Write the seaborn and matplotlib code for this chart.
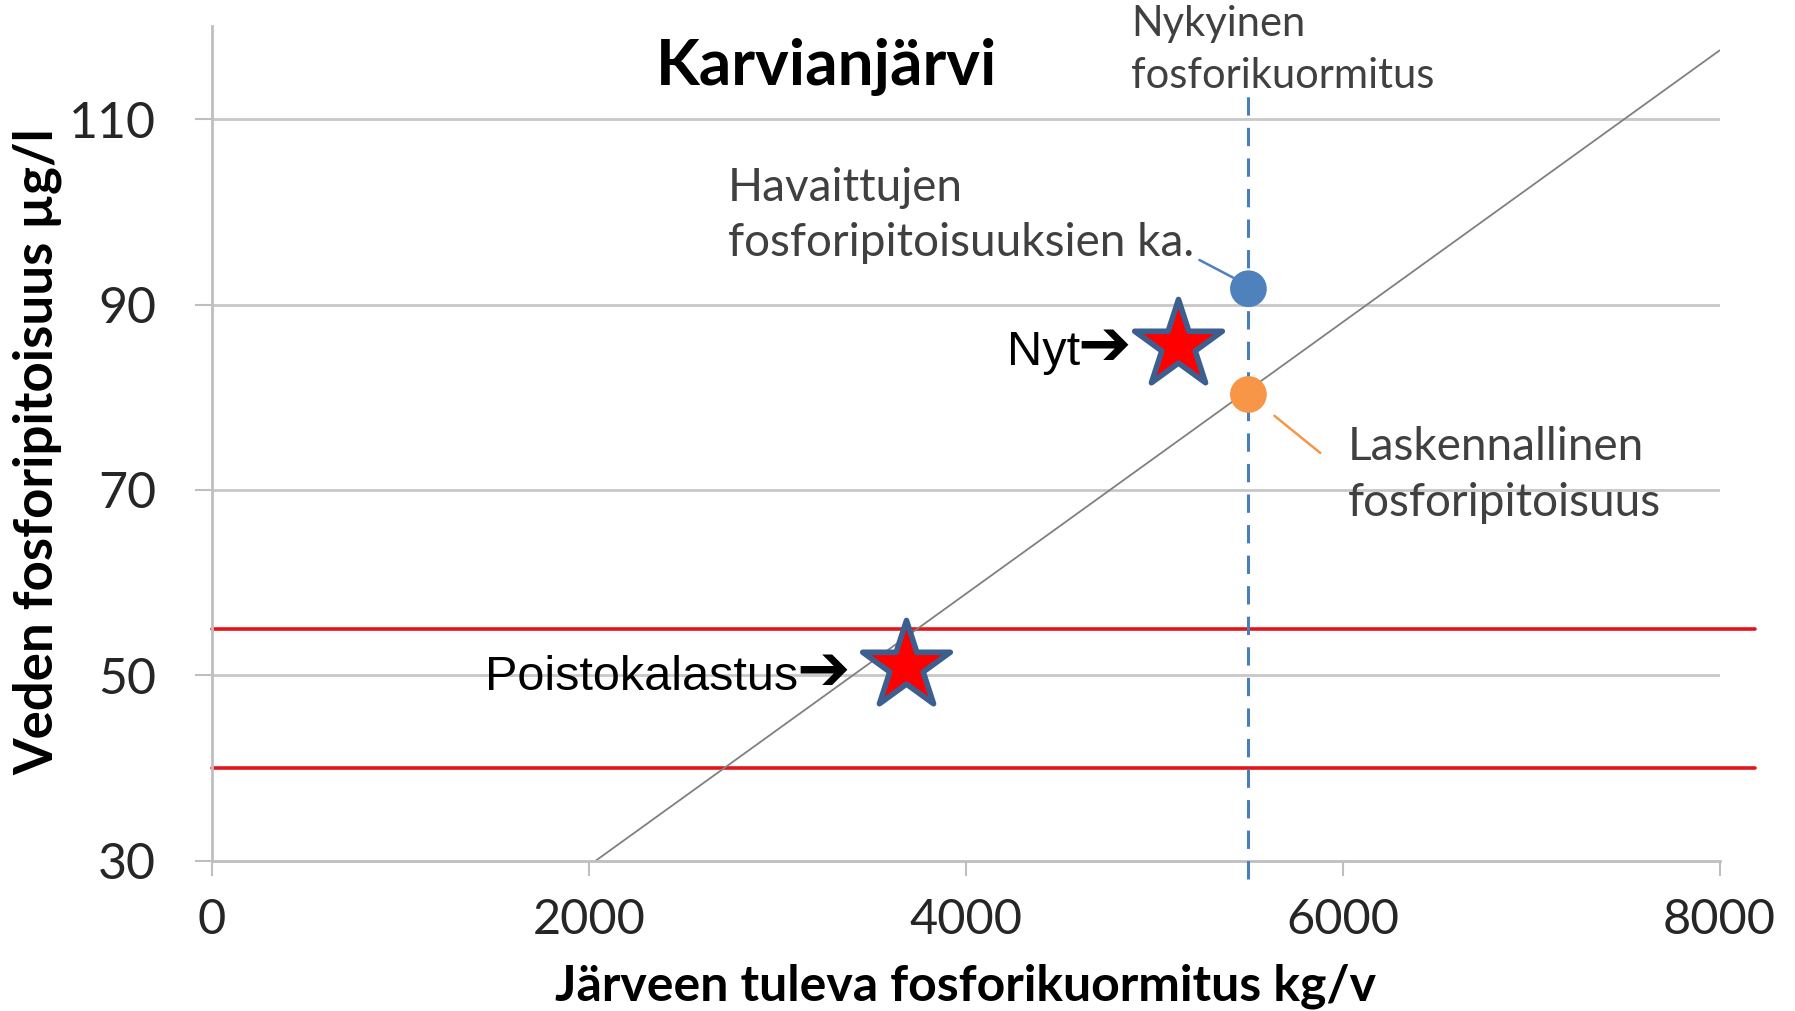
import numpy as np
import pandas as pd
import matplotlib
matplotlib.use("Agg")
import matplotlib.pyplot as plt
import seaborn as sns

# Axis ticks
x_ticks = [0, 2000, 4000, 6000, 8000]
y_ticks = [30, 50, 70, 90, 110]

# Calculated phosphorus model line (load -> concentration)
model_x = [2035, 8000]
model_y = [30, 117.4]

# Current phosphorus load (dashed vertical)
current_load = 5500
current_span = [28.1, 113.5]

# Target limits (red lines)
limit_levels = [55, 40]
limit_span = [0, 8190]

# Observed mean and calculated concentration at current load
observed = pd.DataFrame({"x": [5500], "y": [91.7]})
calculated = pd.DataFrame({"x": [5500], "y": [80.3]})

# Stars: now / after removal fishing
stars = pd.DataFrame({"x": [5127, 3681], "y": [85.6, 51.0],
                      "label": ["Nyt", "Poistokalastus"]})

# Leader lines for the labels
obs_leader_x = [5240, 5447]
obs_leader_y = [94.8, 92.6]
calc_leader_x = [5638, 5881]
calc_leader_y = [78.0, 74.0]

sns.set_theme(style="white")
plt.rcParams["font.family"] = ["Lato", "DejaVu Sans"]

fig = plt.figure(figsize=(17.95, 10.11), dpi=100)
ax = fig.add_axes([0.118, 0.1484, 0.840, 0.8256])

grid_col = "#c8c8c8"
for yv in y_ticks[1:]:
    ax.axhline(yv, xmin=0, xmax=1, color=grid_col, lw=2.0, zorder=0)

# red target lines
for lv in limit_levels:
    ax.plot(limit_span, [lv, lv], color="#e3151a", lw=2.6, clip_on=False, zorder=1)

# model line
sns.lineplot(x=model_x, y=model_y, ax=ax, color="#808080", lw=1.3, zorder=2)

# dashed current load
ax.plot([current_load, current_load], current_span, color="#4a7ebb", lw=2.2,
        dashes=(6, 4), clip_on=False, zorder=3)

# leader lines
ax.plot(obs_leader_x, obs_leader_y, color="#4f81bd", lw=1.8, zorder=3)
ax.plot(calc_leader_x, calc_leader_y, color="#f79646", lw=1.8, zorder=3)

# points
sns.scatterplot(data=observed, x="x", y="y", ax=ax, color="#4f81bd", s=700,
                edgecolor="none", zorder=4)
sns.scatterplot(data=calculated, x="x", y="y", ax=ax, color="#f79646", s=700,
                edgecolor="none", zorder=4)
sns.scatterplot(data=stars, x="x", y="y", ax=ax, marker="*", color="#ff0000",
                s=4400, edgecolor="#3d5f8f", linewidth=4, zorder=5)

ax.set_xlim(0, 8000)
ax.set_ylim(30, 120)
ax.set_xticks(x_ticks)
ax.set_yticks(y_ticks)
ax.set_xlabel("")
ax.set_ylabel("")

for s in ["top", "right"]:
    ax.spines[s].set_visible(False)
for s in ["left", "bottom"]:
    ax.spines[s].set_color("#bfbfbf")
    ax.spines[s].set_linewidth(2.0)

ax.tick_params(axis="y", which="major", direction="out", length=12, width=1.5,
               color="#bfbfbf", labelsize=36, labelcolor="#262626", pad=28,
               left=True)
ax.tick_params(axis="x", which="major", direction="out", length=11, width=1.5,
               color="#bfbfbf", labelsize=35, labelcolor="#262626", pad=16,
               bottom=True)

# annotations
txt_col = "#404040"
ax.text(4878, 117.4, "Nykyinen\nfosforikuormitus", fontsize=30, color=txt_col,
        ha="left", va="center", linespacing=1.45)
ax.text(2740, 99.6, "Havaittujen\nfosforipitoisuuksien ka.", fontsize=33,
        color=txt_col, ha="left", va="center", linespacing=1.4)
ax.text(6026, 71.6, "Laskennallinen\nfosforipitoisuus", fontsize=33,
        color=txt_col, ha="left", va="center", linespacing=1.4)

# star labels with heavy arrows
arrow_x = [4878, 3383]
base_y = [83.5, 48.4]
for lab, ax_x, by in zip(stars["label"], arrow_x, base_y):
    ax.text(ax_x, by, "\u2794", fontsize=46, color="black", fontweight="bold",
            ha="right", va="baseline", family=["DejaVu Sans"])
    ax.annotate(lab, xy=(ax_x, by), xytext=(-37, 0), textcoords="offset points",
                fontsize=35, color="black", ha="right", va="baseline",
                family=["Liberation Sans", "DejaVu Sans"])

ax.text(3262, 115.6, "Karvianjärvi", fontsize=46, fontweight="bold",
        color="black", ha="center", va="center")

fig.text(0.021, 0.553, "Veden fosforipitoisuus µg/l", rotation=90, fontsize=38,
         fontweight="bold", ha="center", va="center", color="black")
fig.text(0.538, 0.002, "Järveen tuleva fosforikuormitus kg/v", fontsize=36,
         fontweight="bold", ha="center", va="bottom", color="black")

fig.savefig("out.png", dpi=100, facecolor="white")
